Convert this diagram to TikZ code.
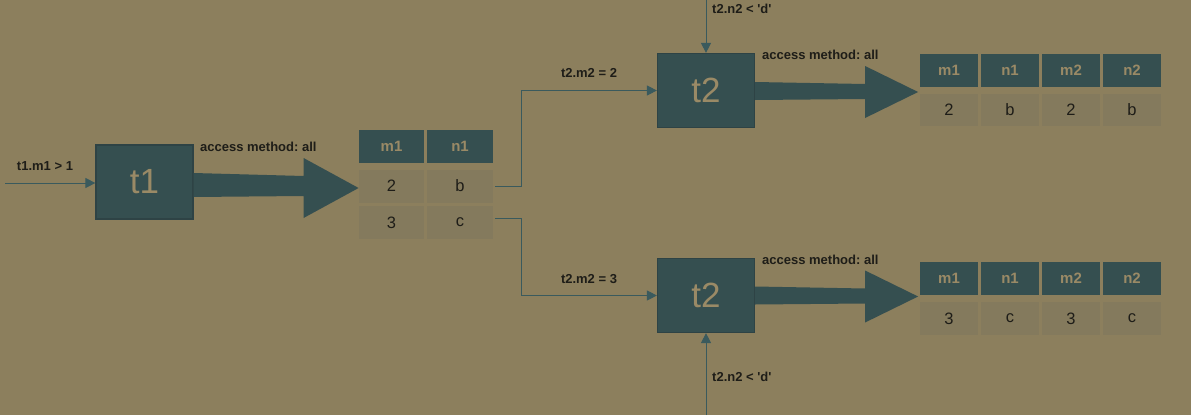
\documentclass[tikz,border=0pt]{standalone}
\usepackage{fontspec}
\setmainfont{Liberation Sans}
\frenchspacing
\usetikzlibrary{arrows.meta,calc}
\definecolor{bgc}{HTML}{8C7F5D}
\definecolor{boxc}{HTML}{354F50}
\definecolor{boxd}{HTML}{2E4345}
\definecolor{cellc}{HTML}{847A5D}
\definecolor{tanc}{HTML}{9A8A66}
\definecolor{txtc}{HTML}{1E1D18}
\definecolor{linec}{HTML}{3A5A5D}
\tikzset{
  x=1pt,y=-1pt,
  tbox/.style={draw=boxd,line width=1.2pt,fill=boxc,minimum width=97,minimum height=74,inner sep=0,
    text=tanc,font=\fontsize{35}{35}\selectfont},
  hcell/.style={fill=boxc,minimum height=33,inner sep=0,text=tanc,font=\fontsize{15}{15}\selectfont\bfseries},
  bcell/.style={fill=cellc,minimum height=33,inner sep=0,text=txtc,font=\fontsize{16.5}{16.5}\selectfont},
  lbl/.style={text=txtc,inner sep=0,font=\fontsize{13}{13}\selectfont\bfseries},
  conn/.style={draw=linec,line width=1pt,-{Triangle[length=10pt,width=10pt]}},
  big/.style={fill=boxc}
}
\begin{document}
\begin{tikzpicture}
\fill[bgc] (0,0) rectangle (1191,415);
\useasboundingbox (0,0) rectangle (1191,415);
% boxes
\node[tbox] (t1) at (144.5,182) {t1};
\node[tbox] (t2a) at (706,90.5) {t2};
\node[tbox] (t2b) at (706,295.5) {t2};
% table 1
\node[hcell,minimum width=65] (h1) at (391.5,146) {m1};
\node[hcell,minimum width=66] (h2) at (460,146) {n1};
\node[bcell,minimum width=65] (a1) at (391.5,186) {2};
\node[bcell,minimum width=66] (a2) at (460,186) {b};
\node[bcell,minimum width=65] (b1) at (391.5,222.5) {3};
\node[bcell,minimum width=66] (b2) at (460,222.5) {c};
% table top right
\foreach \x/\h/\v [count=\i] in {949/m1/2,1010/n1/b,1071/m2/2,1132/n2/b}{
  \node[hcell,minimum width=58] (th\i) at (\x,70) {\h};
  \node[bcell,minimum width=58,minimum height=32] (tb\i) at (\x,110) {\v};
}
% table bottom right
\foreach \x/\h/\v [count=\i] in {949/m1/3,1010/n1/c,1071/m2/3,1132/n2/c}{
  \node[hcell,minimum width=58] (bh\i) at (\x,278) {\h};
  \node[bcell,minimum width=58,minimum height=33] (bb\i) at (\x,318.5) {\v};
}
% big arrows
\fill[big] (t1.east) ++(0,-9) -- ++(110,3) -- ++(0,-18) -- ++(55,30) -- ++(-55,30) -- ++(0,-22) -- ++(-110,1) -- cycle;
\fill[big] (t2a.east) ++(0,-8.5) -- ++(110,2) -- ++(0,-18) -- ++(53,26) -- ++(-53,26) -- ++(0,-19) -- ++(-110,1) -- cycle;
\fill[big] (t2b.east) ++(0,-9) -- ++(110,2) -- ++(0,-18) -- ++(53,26) -- ++(-53,26) -- ++(0,-19) -- ++(-110,1) -- cycle;
% thin connectors
\coordinate (in1) at (5,183);
\coordinate (intop) at (706,0);
\coordinate (inbot) at (706,415);
\draw[conn] (in1) -- (in1 -| t1.west);
\draw[conn] (intop) -- (t2a.north);
\draw[conn] (inbot) -- (t2b.south);
\draw[conn] (a2.east) ++(2,0) -- ++(26,0) |- (t2a.west);
\draw[conn] (b2.east) ++(2,-4) -- ++(26,0) |- (t2b.west);
% labels
\node[lbl] (l1) at (45,166) {t1.m1 > 1};
\node[lbl,anchor=west] (l2) at (200,147) {access method: all};
\node[lbl,anchor=west] (l3) at (762,55) {access method: all};
\node[lbl,anchor=west] (l4) at (762,260) {access method: all};
\node[lbl] (l5) at (589,73) {t2.m2 = 2};
\node[lbl] (l6) at (589,279) {t2.m2 = 3};
\node[lbl,anchor=west] (l7) at (712,9) {t2.n2 < \textquotesingle d\textquotesingle};
\node[lbl,anchor=west] (l8) at (712,377) {t2.n2 < \textquotesingle d\textquotesingle};
\end{tikzpicture}
\end{document}
